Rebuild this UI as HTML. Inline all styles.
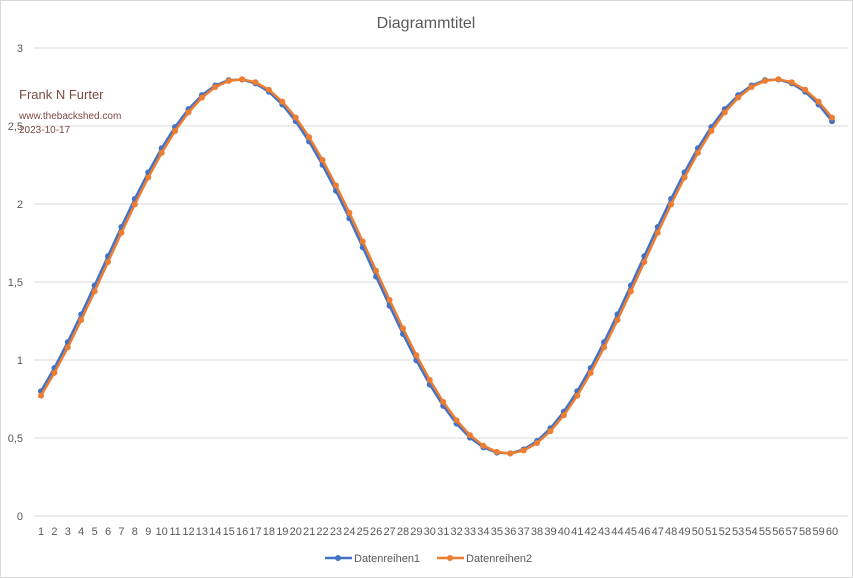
<!DOCTYPE html>
<html><head><meta charset="utf-8"><style>
html,body{margin:0;padding:0;background:#fff}
svg{display:block;font-family:"Liberation Sans",sans-serif}
</style></head><body>
<svg id="c" width="853" height="578" viewBox="0 0 853 578" xmlns="http://www.w3.org/2000/svg">
<rect x="0.5" y="0.5" width="852" height="577" fill="#fff" stroke="#d9d9d9"/>
<text x="426" y="28" font-size="16" fill="#595959" text-anchor="middle">Diagrammtitel</text>
<g id="grid" stroke="#d9d9d9" stroke-width="1"></g>
<g id="yl" font-size="11" fill="#595959" text-anchor="end"></g>
<g id="xl" font-size="11" fill="#595959" text-anchor="middle"></g>
<g id="s"></g>
<text x="19" y="99" font-size="13" fill="#7b4a44">Frank N Furter</text>
<text x="19" y="119" font-size="10" fill="#7b4a44">www.thebackshed.com</text>
<text x="19" y="133" font-size="10" fill="#7b4a44">2023-10-17</text>
<g font-size="11" fill="#595959">
<line x1="325" y1="558" x2="352" y2="558" stroke="#4472c4" stroke-width="2.5"/><circle cx="338" cy="558" r="3" fill="#4472c4"/>
<text x="354" y="562">Datenreihen1</text>
<line x1="437" y1="558" x2="464" y2="558" stroke="#ed7d31" stroke-width="2.5"/><circle cx="450" cy="558" r="3" fill="#ed7d31"/>
<text x="466" y="562">Datenreihen2</text>
</g>
</svg>
<script>
var NS="http://www.w3.org/2000/svg";
function el(p,t,a,txt){var e=document.createElementNS(NS,t);for(var k in a)e.setAttribute(k,a[k]);if(txt!=null)e.textContent=txt;document.getElementById(p).appendChild(e);return e;}
function Y(v){return 516-v*156;}
function X(i){return 41+(i-1)*(791/59);}
var lab=["0","0,5","1","1,5","2","2,5","3"];
for(var k=0;k<=6;k++){var y=Y(k*0.5);el("grid","line",{x1:34,x2:848,y1:y,y2:y});el("yl","text",{x:23,y:y+4},lab[k]);}
for(var i=1;i<=60;i++)el("xl","text",{x:X(i),y:535},String(i));
function series(off,col){var pts=[];for(var i=1;i<=60;i++){var v=1.6+1.2*Math.sin(2*Math.PI*(i-off)/40);pts.push([X(i),Y(v)]);}
el("s","polyline",{points:pts.map(function(p){return p[0].toFixed(1)+","+p[1].toFixed(1)}).join(" "),fill:"none",stroke:col,"stroke-width":2.5,"stroke-linejoin":"round"});
pts.forEach(function(p){el("s","circle",{cx:p[0],cy:p[1],r:3,fill:col});});}
series(5.65,"#4472c4");series(5.85,"#ed7d31");
</script>
</body></html>
